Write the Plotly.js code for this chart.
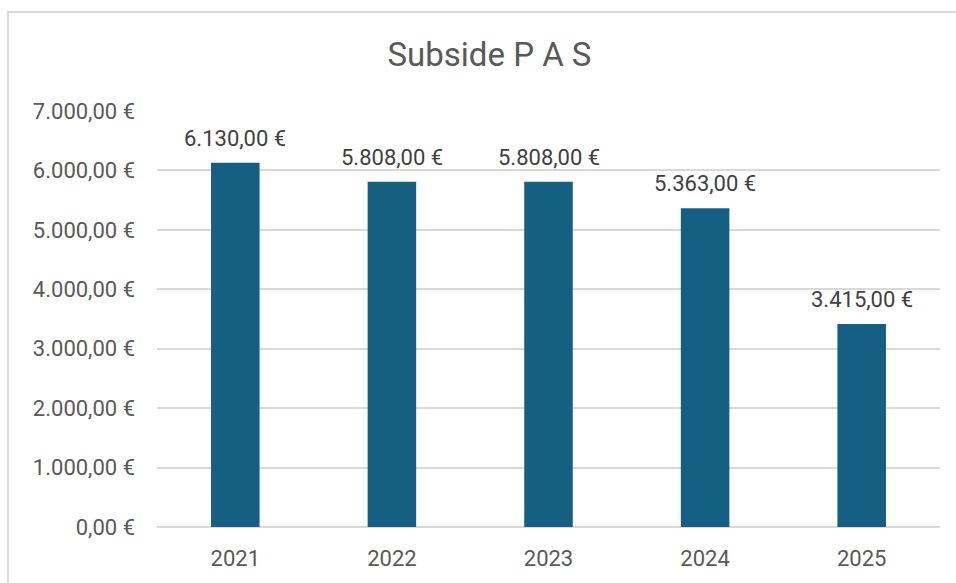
<!DOCTYPE html>
<html>
<head>
<meta charset="utf-8">
<script src="https://cdn.plot.ly/plotly-3.0.1.min.js"></script>
<style>
html,body{margin:0;padding:0;background:#fff;overflow:hidden;}
#chart{width:956px;height:583px;position:relative;}
#frame{position:absolute;left:7px;top:11px;width:960px;height:600px;border:2px solid #d9d9d9;pointer-events:none;box-sizing:border-box;}
#err{position:absolute;left:20px;top:20px;color:red;font:12px monospace;}
</style>
</head>
<body>
<div id="chart"></div>
<div id="frame"></div>
<div id="err"></div>
<script>
const years = ['2021', '2022', '2023', '2024', '2025'];
const amounts = [6130, 5808, 5808, 5363, 3415];
const yTicks = [0, 1000, 2000, 3000, 4000, 5000, 6000, 7000];
const chartTitle = 'Subside P A S';

const fontFam = 'Roboto, "Open Sans", sans-serif';

function fmt(v) {
  return v.toLocaleString('de-DE', {minimumFractionDigits: 2, maximumFractionDigits: 2}) + ' €';
}

const xPos = years.map((_, i) => i);

const trace = {
  type: 'bar',
  x: xPos,
  y: amounts,
  width: 0.31,
  marker: {color: '#156082', line: {width: 0}},
  textposition: 'none',
  hoverinfo: 'none'
};

const annotations = xPos.map((xv, i) => ({
  x: xv, y: amounts[i], xref: 'x', yref: 'y',
  text: fmt(amounts[i]),
  showarrow: false, yanchor: 'bottom', yshift: 10,
  font: {family: fontFam, size: 22, color: '#404040'}
}));

const layout = {
  width: 956, height: 583,
  margin: {l: 157, r: 16, t: 111, b: 56},
  paper_bgcolor: '#ffffff', plot_bgcolor: '#ffffff',
  title: {text: chartTitle, x: 0.512, xanchor: 'center', y: 0.907, yanchor: 'middle',
          font: {family: fontFam, size: 33, color: '#595959'}},
  showlegend: false,
  xaxis: {
    type: 'linear',
    range: [-0.5, 4.5],
    autorange: false,
    tickmode: 'array',
    tickvals: xPos,
    ticktext: years,
    tickfont: {family: fontFam, size: 22, color: '#595959'},
    ticklabelstandoff: 16,
    showgrid: false, showline: false, zeroline: false
  },
  yaxis: {
    type: 'linear',
    range: [0, 7000],
    autorange: false,
    tickmode: 'array',
    tickvals: yTicks,
    ticktext: yTicks.map(fmt),
    tickfont: {family: fontFam, size: 22, color: '#595959'},
    ticklabelstandoff: 21,
    gridcolor: '#d9d9d9', gridwidth: 1.5,
    zeroline: true, zerolinecolor: '#d9d9d9', zerolinewidth: 1.5,
    showline: false
  },
  annotations: annotations
};

try {
  Plotly.newPlot('chart', [trace], layout, {displayModeBar: false})
    .catch(e => { document.getElementById('err').textContent = 'async: ' + e; });
} catch (e) {
  document.getElementById('err').textContent = 'sync: ' + e;
}
</script>
</body>
</html>
